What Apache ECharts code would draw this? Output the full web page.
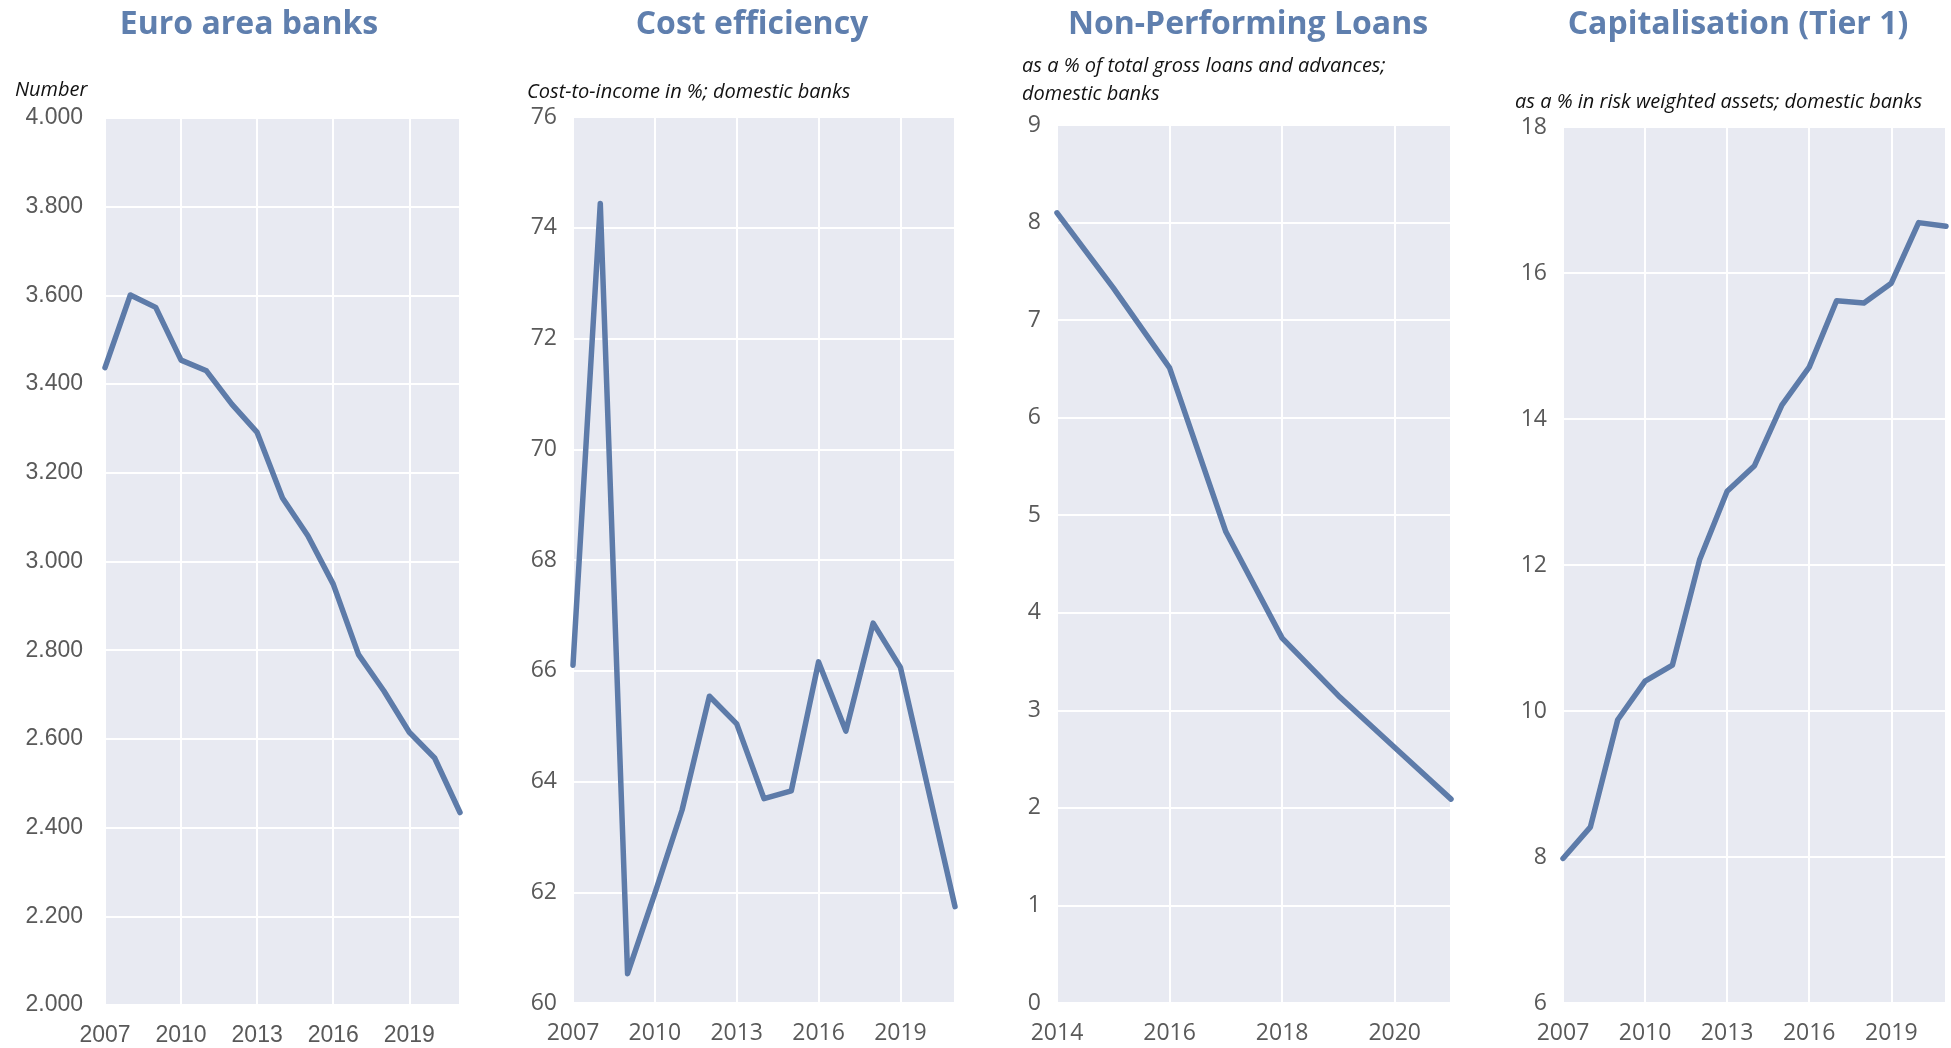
<!DOCTYPE html>
<html>
<head>
<meta charset="utf-8">
<script src="https://cdn.jsdelivr.net/npm/echarts@6/dist/echarts.min.js"></script>
<style>
  html, body { margin: 0; padding: 0; background: #fff; }
  #main { width: 1951px; height: 1048px; }
</style>
</head>
<body>
<div id="main"></div>
<script>
// data
var yearsLong = [2007, 2008, 2009, 2010, 2011, 2012, 2013, 2014, 2015, 2016, 2017, 2018, 2019, 2020, 2021];
var yearsNpl = [2014, 2015, 2016, 2017, 2018, 2019, 2020, 2021];

var banks = [3437, 3601, 3573, 3454, 3430, 3355, 3291, 3143, 3058, 2949, 2790, 2708, 2615, 2557, 2434];
var costIncome = [66.1, 74.44, 60.53, 61.98, 63.49, 65.54, 65.04, 63.69, 63.83, 66.16, 64.91, 66.86, 66.06, 63.9, 61.74];
var npl = [8.1, 7.33, 6.51, 4.83, 3.74, 3.15, 2.62, 2.09];
var tier1 = [7.98, 8.41, 9.88, 10.41, 10.63, 12.08, 13.01, 13.36, 14.19, 14.71, 15.62, 15.59, 15.86, 16.69, 16.64];

var titles = ['Euro area banks', 'Cost efficiency', 'Non-Performing Loans', 'Capitalisation (Tier 1)'];
var subtitles = ['Number', 'Cost-to-income in %; domestic banks',
    'as a % of total gross loans and advances;\ndomestic banks',
    'as a % in risk weighted assets; domestic banks'];

var titleColor = '#5f7fae';
var lineColor = '#5d7ba9';
var labelColor = '#595959';

function pairs(xs, ys) {
    return xs.map(function (x, i) { return [x, ys[i]]; });
}

var chart = echarts.init(document.getElementById('main'));

var grids = [
    { left: 105, right: 1491, top: 118, bottom: 43 },
    { left: 573, right: 996, top: 117, bottom: 45 },
    { left: 1057, right: 500, top: 125, bottom: 45 },
    { left: 1563, right: 5, top: 127, bottom: 45 }
];
grids.forEach(function (g) {
    g.show = true;
    g.backgroundColor = '#e8eaf2';
    g.borderWidth = 0;
    g.containLabel = false;
});

var titleCenters = [249, 752, 1248, 1738];
var subLeft = [15, 527, 1022, 1515];
var subTop = [76, 78, 52, 88];

var titleList = [];
titles.forEach(function (t, i) {
    titleList.push({
        text: t, left: titleCenters[i], top: 9, textAlign: 'center', padding: 0,
        textStyle: { fontFamily: 'Open Sans', fontWeight: 'bold', fontSize: 32, color: titleColor }
    });
});
subtitles.forEach(function (t, i) {
    titleList.push({
        text: t, left: subLeft[i], top: subTop[i], padding: 0,
        textStyle: { fontFamily: 'Open Sans', fontStyle: 'italic', fontWeight: 'normal', fontSize: 20, lineHeight: 28, color: '#111' }
    });
});

function xAxis(idx, min, max, interval, font) {
    return {
        type: 'value', gridIndex: idx, min: min, max: max, interval: interval,
        axisLine: { show: false }, axisTick: { show: false },
        splitLine: { show: true, lineStyle: { color: '#fff', width: 2 } },
        axisLabel: { showMaxLabel: false, margin: 19, color: labelColor, fontSize: 23, fontFamily: font,
            formatter: function (v) { return String(v); } }
    };
}
function yAxis(idx, min, max, interval, font, margin, fmt) {
    return {
        type: 'value', gridIndex: idx, min: min, max: max, interval: interval,
        axisLine: { show: false }, axisTick: { show: false },
        splitLine: { show: true, lineStyle: { color: '#fff', width: 2 } },
        axisLabel: { margin: margin, color: labelColor, fontSize: 23, fontFamily: font, formatter: fmt }
    };
}
function line(idx, data) {
    return {
        type: 'line', xAxisIndex: idx, yAxisIndex: idx, data: data,
        showSymbol: false, symbol: 'none', clip: true,
        lineStyle: { color: lineColor, width: 5.5, cap: 'round', join: 'round' }
    };
}

var option = {
    animation: false,
    title: titleList,
    grid: grids,
    xAxis: [
        xAxis(0, 2007, 2021, 3, 'Liberation Sans'),
        xAxis(1, 2007, 2021, 3, 'Open Sans'),
        xAxis(2, 2014, 2021, 2, 'Open Sans'),
        xAxis(3, 2007, 2021, 3, 'Open Sans')
    ],
    yAxis: [
        yAxis(0, 2000, 4000, 200, 'Liberation Sans', 22, function (v) { return (v / 1000).toFixed(3); }),
        yAxis(1, 60, 76, 2, 'Open Sans', 16),
        yAxis(2, 0, 9, 1, 'Open Sans', 16),
        yAxis(3, 6, 18, 2, 'Open Sans', 16)
    ],
    series: [
        line(0, pairs(yearsLong, banks)),
        line(1, pairs(yearsLong, costIncome)),
        line(2, pairs(yearsNpl, npl)),
        line(3, pairs(yearsLong, tier1))
    ]
};

chart.setOption(option);
</script>
</body>
</html>
